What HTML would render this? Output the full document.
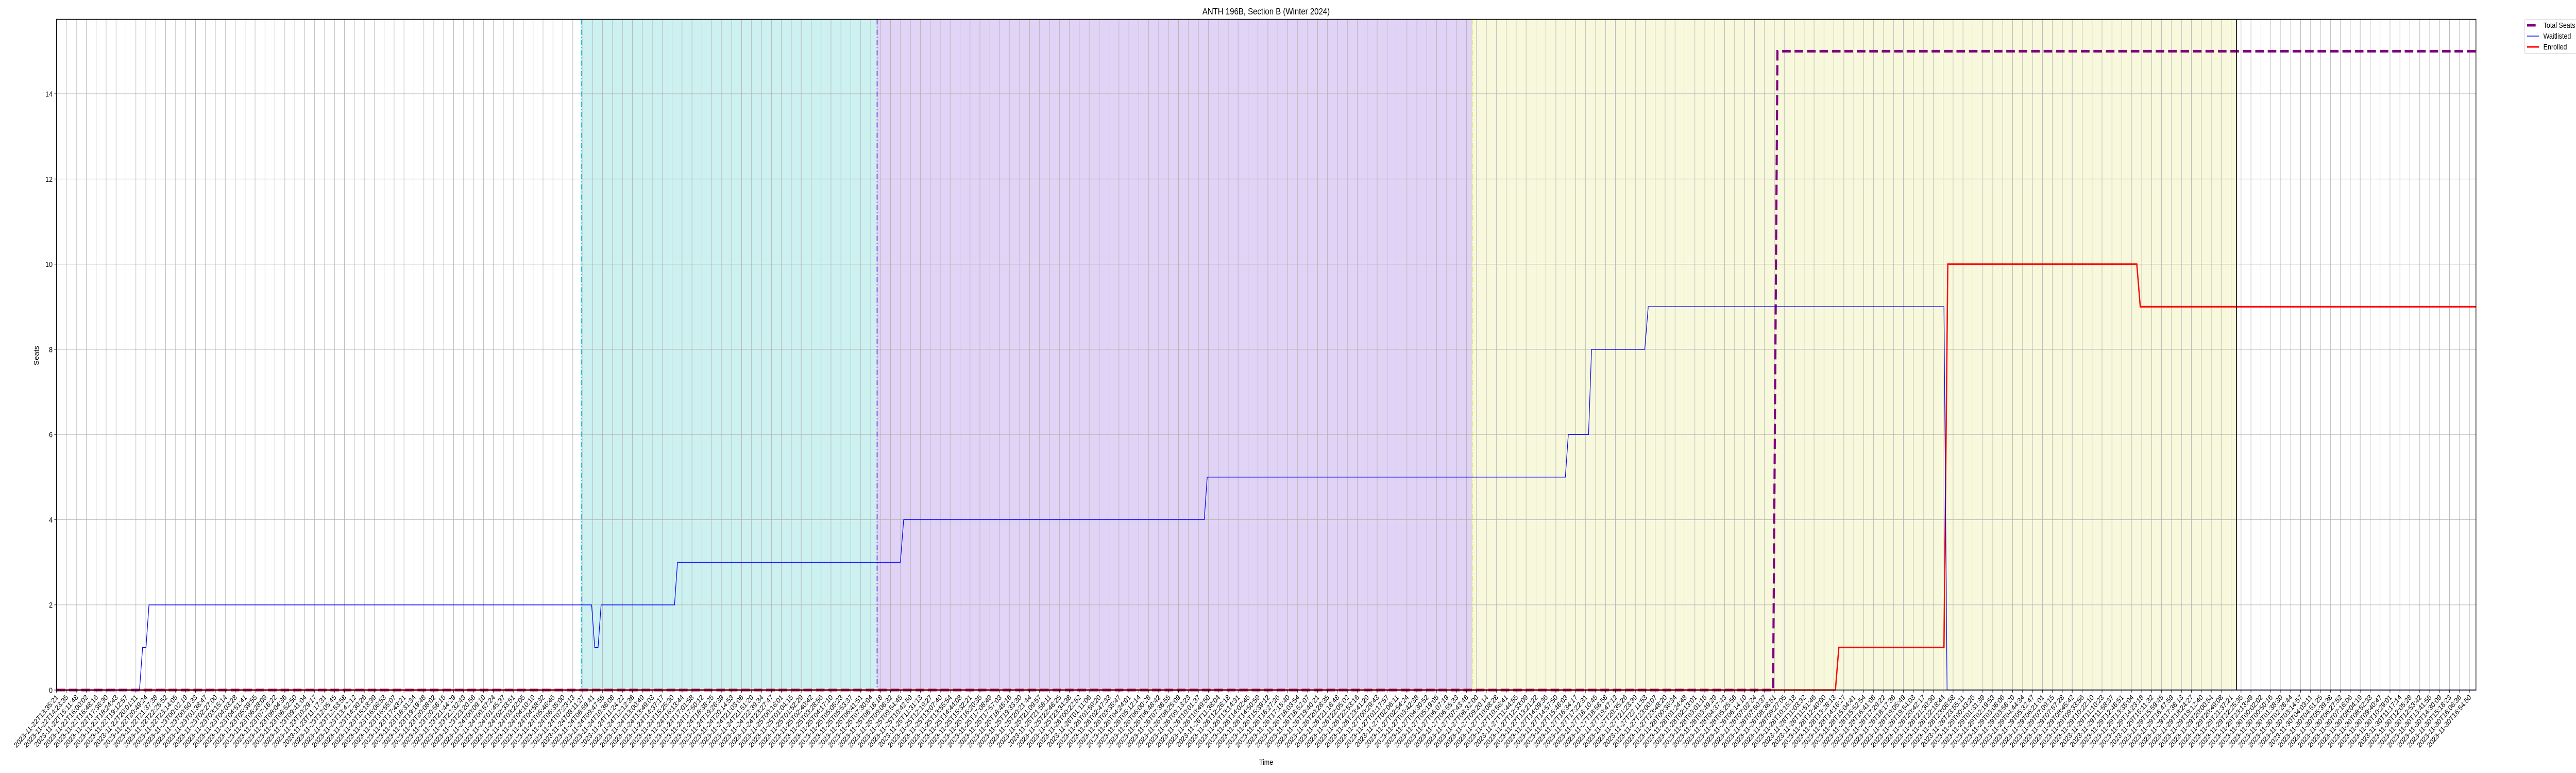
<!DOCTYPE html>
<html><head><meta charset="utf-8"><style>
html,body{margin:0;padding:0;background:#fff;width:100%;height:100%;overflow:hidden;}
svg{display:block;width:100vw;height:100vh;font-family:"Liberation Sans","DejaVu Sans",sans-serif;}
</style></head><body>
<svg id="chart" viewBox="0 0 6000 1500" preserveAspectRatio="none" xmlns="http://www.w3.org/2000/svg">
<rect width="6000" height="1500" fill="#fff"/>
<g id="regions"></g>
<g id="grid"></g>
<g id="series"></g>
<g id="axes"></g>
<text x="2949" y="28" font-size="18" text-anchor="middle">ANTH 196B, Section B (Winter 2024)</text>
<text x="2949" y="1484" font-size="15" text-anchor="middle">Time</text>
<text transform="translate(90,690) rotate(-90)" font-size="15" text-anchor="middle">Seats</text>
<g>
<rect x="5880" y="38" width="135" height="66" rx="3" fill="#fff" stroke="#ccc"/>
<line x1="5886" y1="49" x2="5906" y2="49" stroke="purple" stroke-width="5"/>
<text x="5924" y="54" font-size="15">Total Seats</text>
<line x1="5886" y1="70" x2="5914" y2="70" stroke="blue" stroke-width="1.5"/>
<text x="5924" y="75" font-size="15">Waitlisted</text>
<line x1="5886" y1="91" x2="5914" y2="91" stroke="red" stroke-width="3"/>
<text x="5924" y="96" font-size="15">Enrolled</text>
</g>
</svg>
<script>
// hours since 2023-11-22T13:35:21
const startTime = "2023-11-22T13:35:21";
const tickCount = 244;
const tickIntervalSec = 2893.7;
const waitHours = [0,6.72,6.97,7.25,7.49,43.32,43.57,43.84,44.09,50.03,50.27,68.31,68.58,92.91,93.15,122.14,122.38,124.02,124.26,128.57,128.85,152.79,153.04,195.85];
const waitValues = [0,0,1,1,2,2,1,1,2,2,3,3,4,4,5,5,6,6,8,8,9,9,0,0];
const enrolledHours = [0,144.0,144.28,152.79,153.1,168.4,168.68,195.85];
const enrolledValues = [0,0,1,1,10,10,9,9];
const totalHours = [0,138.96,139.31,195.85];
const totalValues = [0,0,15,15];
const regionStarts = [42.49,66.43,114.6];
const regionEnds = [66.43,114.6,176.46];
const regionFills = ["#cdf0f0","#e0d3f5","#f8f8dc"];
const regionLineColors = ["#17becf","#6a1fd0","#e0e030"];
const deadlineHour = 176.46;
const yTicks = [0,2,4,6,8,10,12,14];

const NS="http://www.w3.org/2000/svg";
const L=131.5,R=5767,T=37.5,B=1339;
const pxPerHour=28.774, pxPerUnit=82.64;
const X=h=>L+h*pxPerHour;
const Y=v=>B-v*pxPerUnit;
function mk(tag,attrs,parent){const e=document.createElementNS(NS,tag);for(const k in attrs)e.setAttribute(k,attrs[k]);parent.appendChild(e);return e;}
const gR=document.getElementById('regions'),gG=document.getElementById('grid'),gS=document.getElementById('series'),gA=document.getElementById('axes');

regionStarts.forEach((s,i)=>{
  const r=mk('rect',{x:X(s),y:T,width:X(regionEnds[i])-X(s),height:B-T,fill:regionFills[i]},gR);
  
  
});

const t0=new Date(startTime+"Z").getTime();
function fmt(d){const p=n=>String(n).padStart(2,'0');return d.getUTCFullYear()+"-"+p(d.getUTCMonth()+1)+"-"+p(d.getUTCDate())+"T"+p(d.getUTCHours())+":"+p(d.getUTCMinutes())+":"+p(d.getUTCSeconds());}
for(let i=0;i<tickCount;i++){
  const h=i*tickIntervalSec/3600, x=X(h);
  const gl=mk('line',{x1:x,y1:T,x2:x,y2:B,stroke:'#b0b0b0','stroke-width':1},gG);
  
  
  mk('line',{x1:x,y1:B,x2:x,y2:B+5,stroke:'#000','stroke-width':1},gA);
  const t=mk('text',{x:0,y:0,'font-size':14.5,'text-anchor':'end',transform:`translate(${x+5},${B+15}) rotate(-45)`},gA);
  
  
  t.textContent=fmt(new Date(t0+Math.round(i*tickIntervalSec)*1000));
}
yTicks.forEach(v=>{
  const y=Y(v);
  const gl=mk('line',{x1:L,y1:y,x2:R,y2:y,stroke:'#b0b0b0','stroke-width':1},gG);
  
  
  mk('line',{x1:L-5,y1:y,x2:L,y2:y,stroke:'#000','stroke-width':1},gA);
  const t=mk('text',{x:L-9,y:y+5.5,'font-size':15,'text-anchor':'end'},gA);
  
  
  t.textContent=v;
});
const dashes=["10,4,2,4","10,4,2,4","10,4,2,4"];
regionStarts.forEach((s,i)=>{
  const l=mk('line',{x1:X(s),y1:T,x2:X(s),y2:B,stroke:regionLineColors[i],'stroke-width':2,'stroke-dasharray':dashes[i]},gS);
  
  
});
function path(hs,vs){return hs.map((h,i)=>(i?'L':'M')+X(h).toFixed(1)+','+Y(vs[i]).toFixed(1)).join('');}
const tl=mk('path',{d:path(totalHours,totalValues),fill:'none',stroke:'purple','stroke-width':5,'stroke-dasharray':'20,9'},gS);


const el=mk('path',{d:path(enrolledHours,enrolledValues),fill:'none',stroke:'red','stroke-width':3},gS);


const wl=mk('path',{d:path(waitHours,waitValues),fill:'none',stroke:'blue','stroke-width':1.5},gS);


const dl=mk('line',{x1:X(deadlineHour),y1:T,x2:X(deadlineHour),y2:B,stroke:'#000','stroke-width':2},gS);


mk('rect',{x:L,y:T,width:R-L,height:B-T,fill:'none',stroke:'#000','stroke-width':1.5},gA);
</script>
</body></html>
